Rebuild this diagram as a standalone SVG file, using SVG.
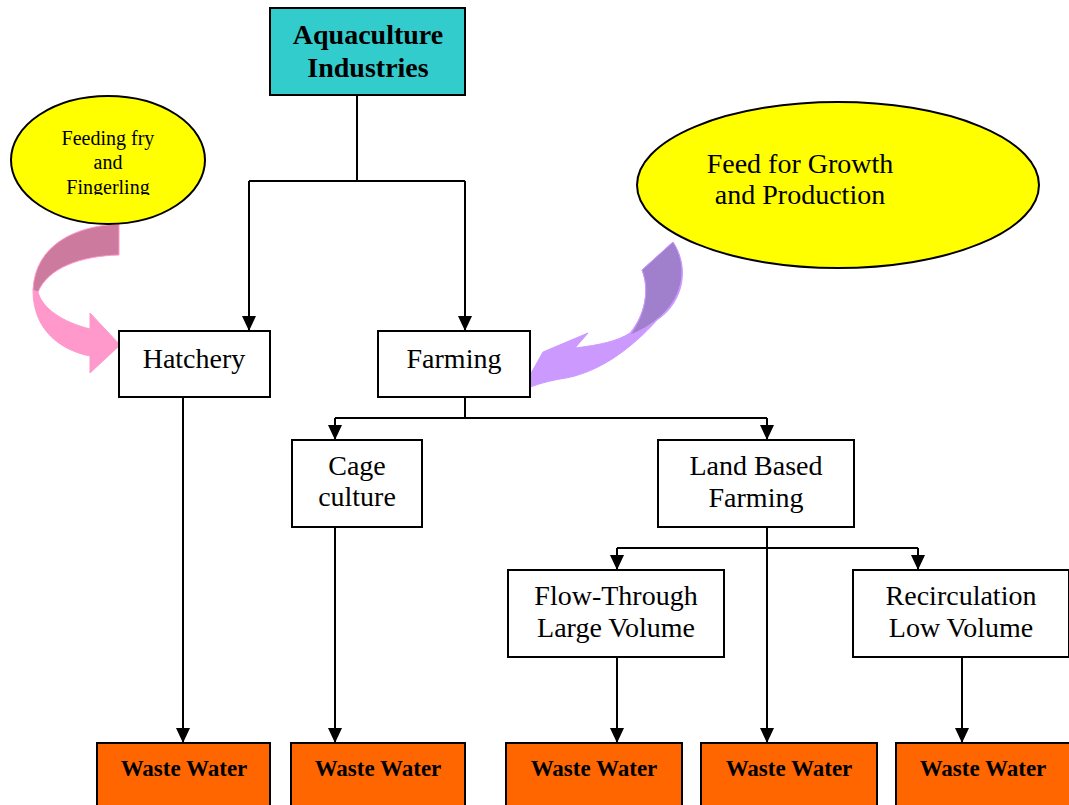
<svg xmlns="http://www.w3.org/2000/svg" width="1069" height="805" viewBox="0 0 1069 805">
<style>
.box{fill:#fff;stroke:#000;stroke-width:2}
.top{fill:#33CCCC;stroke:#000;stroke-width:2}
.ww{fill:#FF6600;stroke:#000;stroke-width:2}
.ell{fill:#FFFF00;stroke:#000;stroke-width:2}
.t{font-family:"Liberation Serif","Times New Roman",serif;font-size:28px;text-anchor:middle;fill:#000}
.tb{font-family:"Liberation Serif","Times New Roman",serif;font-size:28px;font-weight:bold;text-anchor:middle;fill:#000}
.tw{font-family:"Liberation Serif","Times New Roman",serif;font-size:23px;font-weight:bold;text-anchor:middle;fill:#000}
.ts{font-family:"Liberation Serif","Times New Roman",serif;font-size:20px;text-anchor:middle;fill:#000}
.c{fill:none;stroke:#000;stroke-width:2}
</style>
<defs>
<marker id="ah" markerWidth="16" markerHeight="14" refX="15" refY="7" orient="auto" markerUnits="userSpaceOnUse" viewBox="0 0 16 14">
<path d="M0,0 L15,7 L0,14 Z" fill="#000"/>
</marker>
<clipPath id="clip1"><rect x="0" y="90" width="230" height="105"/></clipPath>
</defs>

<g id="connectors">
<polyline class="c" points="357,95 357,181"/>
<polyline class="c" points="249,181 465,181"/>
<line class="c" x1="249" y1="181" x2="249" y2="331" marker-end="url(#ah)"/>
<line class="c" x1="465" y1="181" x2="465" y2="331" marker-end="url(#ah)"/>
<polyline class="c" points="465,397 465,418"/>
<polyline class="c" points="335,418 767,418"/>
<line class="c" x1="335" y1="418" x2="335" y2="440" marker-end="url(#ah)"/>
<line class="c" x1="767" y1="418" x2="767" y2="440" marker-end="url(#ah)"/>
<polyline class="c" points="617,548 918,548"/>
<line class="c" x1="617" y1="548" x2="617" y2="570" marker-end="url(#ah)"/>
<line class="c" x1="918" y1="548" x2="918" y2="570" marker-end="url(#ah)"/>
<line class="c" x1="183" y1="397" x2="183" y2="743" marker-end="url(#ah)"/>
<line class="c" x1="335" y1="527" x2="335" y2="743" marker-end="url(#ah)"/>
<line class="c" x1="617" y1="657" x2="617" y2="743" marker-end="url(#ah)"/>
<line class="c" x1="767" y1="527" x2="767" y2="743" marker-end="url(#ah)"/>
<line class="c" x1="962" y1="657" x2="962" y2="743" marker-end="url(#ah)"/>
</g>

<g id="pink-arrow">
<path d="M33,290 C33,330 60,350 90,356 L90,373 L120,345 L90,313 L90,329 C62,322 42,308 38,292 Z" fill="#FF99CC" stroke="#FF99CC" stroke-width="1"/>
<path d="M119,224 C75,226 35,245 33,290 L38,292 C48,268 80,256 119,255 Z" fill="#CC7A9E" stroke="#FF99CC" stroke-width="1"/>
</g>

<g id="purple-arrow">
<path d="M642,270 L673,242 C692,272 680,305 657,320 C632,348 598,374 560,379 C543,382 532,386 521,391 L543,352 L588,333 L575,348 C600,345 618,341 630,333 C645,315 650,290 642,270 Z" fill="#CC99FF" stroke="#CC99FF" stroke-width="1"/>
<path d="M642,270 L673,242 C688,265 684,295 662,315 C650,326 640,331 630,335 C645,315 650,290 642,270 Z" fill="#A07FCC" stroke="#CC99FF" stroke-width="1"/>
</g>

<g id="aquaculture">
<rect class="top" x="270" y="8" width="195" height="87"/>
<text class="tb" x="368" y="44">Aquaculture</text>
<text class="tb" x="368" y="77">Industries</text>
</g>

<g id="feeding-fry">
<ellipse class="ell" cx="108" cy="160" rx="97" ry="64"/>
<g clip-path="url(#clip1)">
<text class="ts" x="108" y="145">Feeding fry</text>
<text class="ts" x="108" y="169">and</text>
<text class="ts" x="108" y="194">Fingerling</text>
</g>
</g>

<g id="feed-growth">
<ellipse class="ell" cx="838" cy="185" rx="201" ry="83"/>
<text class="t" x="800" y="173">Feed for Growth</text>
<text class="t" x="800" y="204">and Production</text>
</g>

<g id="hatchery">
<rect class="box" x="119" y="331" width="151" height="66"/>
<text class="t" x="194" y="368">Hatchery</text>
</g>

<g id="farming">
<rect class="box" x="378" y="331" width="152" height="66"/>
<text class="t" x="454" y="368">Farming</text>
</g>

<g id="cage">
<rect class="box" x="292" y="440" width="130" height="87"/>
<text class="t" x="357" y="475">Cage</text>
<text class="t" x="357" y="506">culture</text>
</g>

<g id="land">
<rect class="box" x="658" y="440" width="196" height="87"/>
<text class="t" x="756" y="475">Land Based</text>
<text class="t" x="756" y="507">Farming</text>
</g>

<g id="flow">
<rect class="box" x="508" y="570" width="216" height="87"/>
<text class="t" x="616" y="605">Flow-Through</text>
<text class="t" x="616" y="637">Large Volume</text>
</g>

<g id="recirc">
<rect class="box" x="853" y="570" width="216" height="87"/>
<text class="t" x="961" y="605">Recirculation</text>
<text class="t" x="961" y="637">Low Volume</text>
</g>

<g id="ww1"><rect class="ww" x="97" y="743" width="173" height="70"/><text class="tw" x="184" y="776">Waste Water</text></g>
<g id="ww2"><rect class="ww" x="291" y="743" width="174" height="70"/><text class="tw" x="378" y="776">Waste Water</text></g>
<g id="ww3"><rect class="ww" x="506" y="743" width="176" height="70"/><text class="tw" x="594" y="776">Waste Water</text></g>
<g id="ww4"><rect class="ww" x="701" y="743" width="176" height="70"/><text class="tw" x="789" y="776">Waste Water</text></g>
<g id="ww5"><rect class="ww" x="896" y="743" width="176" height="70"/><text class="tw" x="983" y="776">Waste Water</text></g>
</svg>
